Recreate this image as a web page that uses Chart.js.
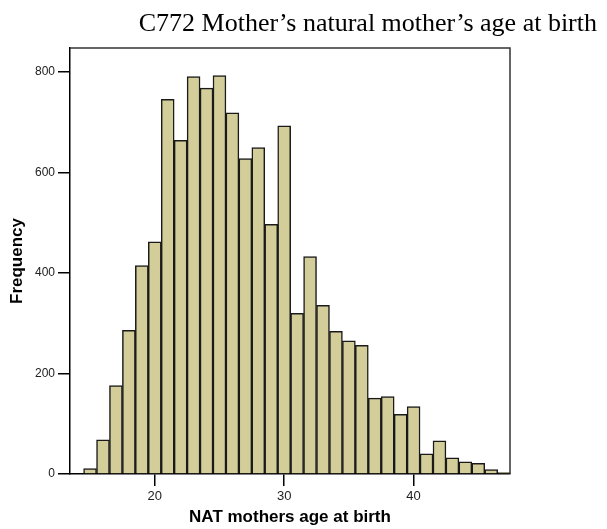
<!DOCTYPE html>
<html>
<head>
<meta charset="utf-8">
<script src="https://cdn.jsdelivr.net/npm/chart.js@4.4.0/dist/chart.umd.min.js"></script>
<style>
  html, body { margin: 0; padding: 0; background: #fff; }
  #wrap { width: 607px; height: 529px; }
</style>
</head>
<body>
<div id="wrap"><canvas id="chart" width="607" height="529"></canvas></div>
<script>
// Data (one bar per year of age)
const chartTitle = 'C772 Mother\u2019s natural mother\u2019s age at birth';
const ages = [15, 16, 17, 18, 19, 20, 21, 22, 23, 24, 25, 26, 27, 28, 29, 30, 31,
              32, 33, 34, 35, 36, 37, 38, 39, 40, 41, 42, 43, 44, 45, 46, 47];
const counts = [11, 68, 176, 286, 415, 462, 746, 664, 791, 768, 793, 719, 628, 650, 497, 693, 320,
                433, 336, 284, 265, 256, 151, 154, 119, 134, 40, 66, 32, 24, 21, 9, 3];
const xTicks = [20, 30, 40];
const yTicks = [0, 200, 400, 600, 800];

// Title drawn top-right, like the original
const titlePlugin = {
  id: 'topTitle',
  afterDraw(chart) {
    const ctx = chart.ctx;
    ctx.save();
    ctx.font = '26px "Liberation Serif", "Times New Roman", serif';
    ctx.fillStyle = '#000';
    ctx.textAlign = 'right';
    ctx.textBaseline = 'alphabetic';
    ctx.fillText(chartTitle, 597, 31);
    ctx.restore();
  }
};

// Top and right edges of the plot frame
const framePlugin = {
  id: 'frame',
  afterDraw(chart) {
    const a = chart.chartArea;
    const ctx = chart.ctx;
    ctx.save();
    ctx.strokeStyle = '#333';
    ctx.lineWidth = 1.5;
    ctx.beginPath();
    ctx.moveTo(a.left, a.top);
    ctx.lineTo(a.right, a.top);
    ctx.lineTo(a.right, a.bottom);
    ctx.stroke();
    ctx.restore();
  }
};

const ctx = document.getElementById('chart');
new Chart(ctx, {
  type: 'bar',
  data: {
    datasets: [{
      label: 'Frequency',
      data: ages.map((a, i) => ({ x: a, y: counts[i] })),
      backgroundColor: '#D3CE99',
      borderColor: '#1a1a1a',
      borderWidth: 1.5,
      barPercentage: 1.0,
      categoryPercentage: 1.0
    }]
  },
  options: {
    responsive: false,
    animation: false,
    layout: { padding: { top: 48, right: 97, left: 0, bottom: 0 } },
    plugins: {
      legend: { display: false },
      tooltip: { enabled: false }
    },
    scales: {
      x: {
        type: 'linear',
        min: 13.45,
        max: 47.45,
        offset: false,
        afterFit: s => { s.height = 55; },
        afterBuildTicks: s => { s.ticks = xTicks.map(v => ({ value: v })); },
        grid: { offset: false, drawOnChartArea: false, drawTicks: true, tickLength: 12, color: '#000', lineWidth: 1.5 },
        border: { display: true, color: '#000', width: 1.5 },
        ticks: { color: '#222', padding: 3, font: { family: 'Arial, "Liberation Sans", sans-serif', size: 13 } },
        title: {
          display: true,
          text: 'NAT mothers age at birth',
          color: '#000',
          padding: { top: 0, bottom: 1 },
          font: { family: 'Arial, "Liberation Sans", sans-serif', size: 17, weight: 'bold' }
        }
      },
      y: {
        min: 0,
        max: 848,
        afterFit: s => { s.width = 70; },
        afterBuildTicks: s => { s.ticks = yTicks.map(v => ({ value: v })); },
        grid: { drawOnChartArea: false, drawTicks: true, tickLength: 12, color: '#000', lineWidth: 1.5 },
        border: { display: true, color: '#000', width: 1.5 },
        ticks: { color: '#222', padding: 3, font: { family: 'Arial, "Liberation Sans", sans-serif', size: 12 } },
        title: {
          display: true,
          text: 'Frequency',
          color: '#000',
          padding: { top: 7, bottom: 0 },
          font: { family: 'Arial, "Liberation Sans", sans-serif', size: 17, weight: 'bold' }
        }
      }
    }
  },
  plugins: [titlePlugin, framePlugin]
});
</script>
</body>
</html>
